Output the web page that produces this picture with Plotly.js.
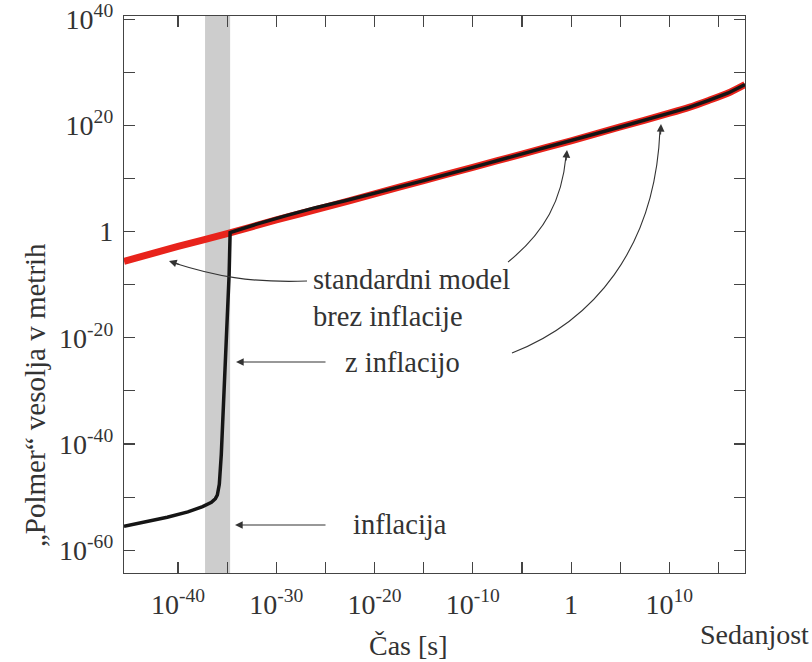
<!DOCTYPE html>
<html>
<head>
<meta charset="utf-8">
<script src="https://cdn.plot.ly/plotly-3.0.1.min.js"></script>
<style>html,body{margin:0;padding:0;background:#fff;}#chart{width:812px;height:662px;}</style>
</head>
<body>
<div id="chart"></div>
<script>
// Standard model without inflation (log10 of time in s, log10 of radius in m)
const logTimeStd   = [-45.5, -40, -35, -30, -25, -20, -15, -10, -5, 0, 5, 10, 12, 14, 16, 17.7];
const logRadiusStd = [-5.6, -2.8, -0.4, 2.2, 4.6, 7.1, 9.6, 12.1, 14.6, 17.1, 19.7, 22.3, 23.4, 24.7, 26.1, 27.7];

// With inflation
const logTimeInfl   = [-45.5, -43, -41.1, -39, -37.5, -36.6, -36.2, -36.0, -35.8, -35.6, -35.3, -35.0, -34.8, -34.7, -32, -29, -26, -23, -20, -15, -10, -5, 0, 5, 10, 12, 14, 16, 17.7];
const logRadiusInfl = [-55.5, -54.6, -53.8, -52.8, -51.8, -51.0, -50.3, -49.6, -47.6, -42, -30, -18, -8, -0.2, 1.4, 3.0, 4.5, 5.8, 7.2, 9.6, 12.1, 14.6, 17.1, 19.7, 22.3, 23.4, 24.7, 26.1, 27.7];

// Inflation period (log10 s)
const inflationStartLog = -37.25;
const inflationEndLog = -34.7;

// Axis ticks (log10 exponents) and labels
const xLabelExp  = [-40, -30, -20, -10, 0, 10];
const xLabelText = ['10<sup>-40</sup>', '10<sup>-30</sup>', '10<sup>-20</sup>', '10<sup>-10</sup>', '1', '10<sup>10</sup>'];
const xMinorExp  = [-35, -25, -15, -5, 5, 15];
const yLabelExp  = [-60, -40, -20, 0, 20, 40];
const yLabelText = ['10<sup>-60</sup>', '10<sup>-40</sup>', '10<sup>-20</sup>', '1', '10<sup>20</sup>', '10<sup>40</sup>'];
const yMinorExp  = [-50, -30, -10, 10, 30];

const pow10 = a => a.map(v => Math.pow(10, v));

const FONT = 'Liberation Serif, Times New Roman, serif';
const TXT = '#333';

const traces = [
  { x: pow10(logTimeStd), y: pow10(logRadiusStd), type: 'scatter', mode: 'lines',
    line: { color: '#e8231b', width: 7, shape: 'spline', smoothing: 0.6 }, hoverinfo: 'skip', showlegend: false },
  { x: pow10(logTimeInfl), y: pow10(logRadiusInfl), type: 'scatter', mode: 'lines',
    line: { color: '#151515', width: 3.5 }, hoverinfo: 'skip', showlegend: false }
];

// layout helpers: pixel -> paper (plot area 124..745 x 16..573)
const L = 124, R = 745, T = 16, B = 573;
const px = X => (X - L) / (R - L);
const py = Y => (B - Y) / (B - T);
const P = (X, Y) => px(X).toFixed(4) + ',' + py(Y).toFixed(4);

function curve(p0, c1, c2, p1) {
  return { type: 'path', xref: 'paper', yref: 'paper',
    path: 'M' + P(...p0) + ' C' + P(...c1) + ' ' + P(...c2) + ' ' + P(...p1),
    line: { color: '#333', width: 1.1 } };
}
function head(X, Y, ax, ay) {
  return { xref: 'paper', yref: 'paper', x: px(X), y: py(Y), ax: ax, ay: ay, text: '',
    showarrow: true, arrowhead: 2, arrowsize: 1.4, arrowwidth: 1.1, arrowcolor: '#333' };
}
function label(X, Y, text, anchor) {
  return { xref: 'paper', yref: 'paper', x: px(X), y: py(Y), text: text, showarrow: false,
    xanchor: anchor || 'left', yanchor: 'middle', align: 'left',
    font: { family: FONT, size: 28.5, color: TXT } };
}

const axisCommon = {
  type: 'log', showgrid: false, zeroline: false,
  showline: true, linecolor: '#444', linewidth: 1.2, mirror: 'ticks',
  ticks: 'inside', ticklen: 11, tickcolor: '#444', tickwidth: 1.1,
  tickfont: { family: FONT, size: 28, color: TXT }
};

const layout = {
  width: 812, height: 662,
  margin: { l: L, r: 812 - R, t: T, b: 662 - B },
  paper_bgcolor: '#fff', plot_bgcolor: '#fff',
  font: { family: FONT, size: 28, color: TXT },
  xaxis: Object.assign({}, axisCommon, { range: [-45.5, 17.7],
    tickmode: 'array', tickvals: pow10(xLabelExp), ticktext: xLabelText, ticklabelstandoff: 6,
    minor: { tickmode: 'array', tickvals: pow10(xMinorExp), ticks: 'inside', ticklen: 11, tickcolor: '#444', tickwidth: 1.1, showgrid: false } }),
  yaxis: Object.assign({}, axisCommon, { range: [-64.3, 40.6],
    tickmode: 'array', tickvals: pow10(yLabelExp), ticktext: yLabelText, ticklabelstandoff: 4,
    minor: { tickmode: 'array', tickvals: pow10(yMinorExp), ticks: 'inside', ticklen: 11, tickcolor: '#444', tickwidth: 1.1, showgrid: false } }),
  shapes: [
    { type: 'rect', xref: 'x', yref: 'paper', x0: Math.pow(10, inflationStartLog), x1: Math.pow(10, inflationEndLog), y0: 0, y1: 1,
      fillcolor: '#cdcdcd', line: { width: 0 }, layer: 'below' },
    curve([307, 281], [250, 283], [215, 276], [174, 263]),
    curve([508, 262], [545, 232], [562, 200], [566, 156]),
    curve([512, 353], [592, 322], [655, 250], [660, 130])
  ],
  annotations: [
    head(169, 261, 12, 4),
    head(567, 150, -1, 12),
    head(661, 124, -0.5, 12),
    { xref: 'paper', yref: 'paper', x: px(236), y: py(362), ax: 91, ay: 0, text: '', showarrow: true,
      arrowhead: 2, arrowsize: 1.4, arrowwidth: 1.1, arrowcolor: '#333' },
    { xref: 'paper', yref: 'paper', x: px(235), y: py(525), ax: 92, ay: 0, text: '', showarrow: true,
      arrowhead: 2, arrowsize: 1.4, arrowwidth: 1.1, arrowcolor: '#333' },
    label(311, 298, 'standardni model<br>brez inflacije'),
    label(343, 362, 'z inflacijo'),
    label(351, 524, 'inflacija'),
    { xref: 'paper', yref: 'paper', x: px(35), y: py(395), text: '„Polmer“ vesolja v metrih',
      textangle: -90, showarrow: false, xanchor: 'center', yanchor: 'middle',
      font: { family: FONT, size: 29, color: TXT } },
    { xref: 'paper', yref: 'paper', x: px(408), y: py(645), text: 'Čas [s]', showarrow: false,
      xanchor: 'center', yanchor: 'middle', font: { family: FONT, size: 28, color: TXT } },
    { xref: 'paper', yref: 'paper', x: px(754), y: py(634), text: 'Sedanjost', showarrow: false,
      xanchor: 'center', yanchor: 'middle', font: { family: FONT, size: 28, color: TXT } }
  ]
};

Plotly.newPlot('chart', traces, layout, { staticPlot: true, displayModeBar: false });
</script>
</body>
</html>
